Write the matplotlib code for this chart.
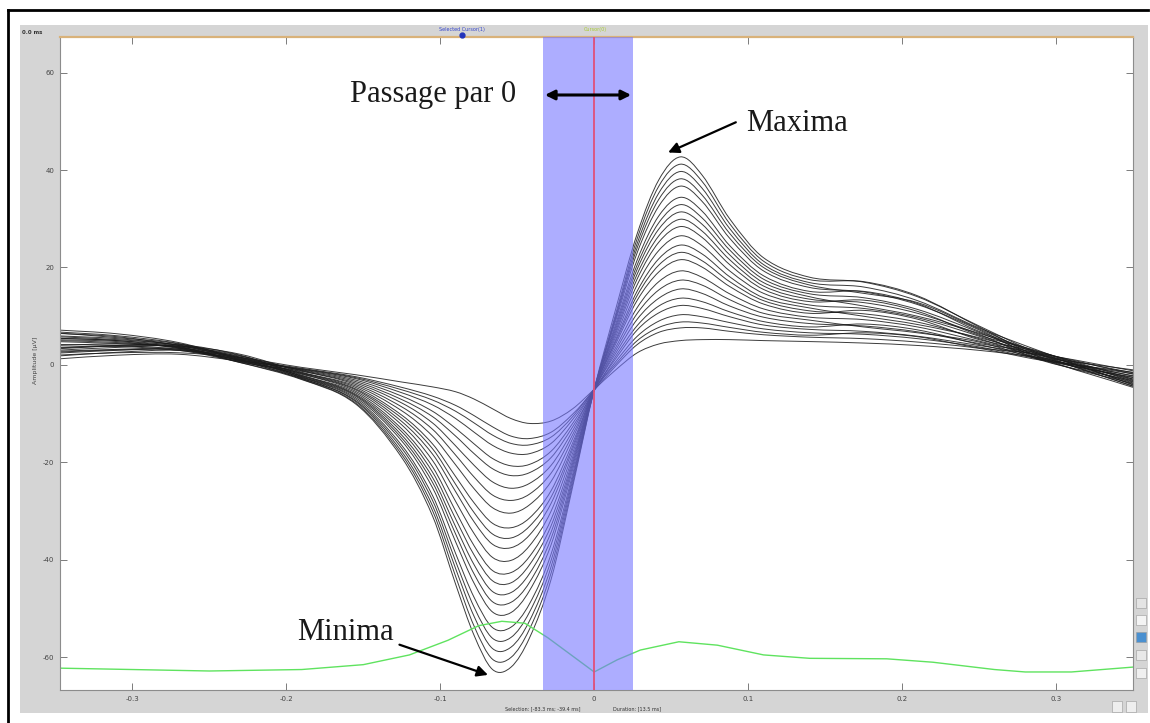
import matplotlib.pyplot as plt
from matplotlib.patches import Rectangle, PathPatch
from matplotlib.lines import Line2D
from matplotlib.path import Path

# shared time axis of the superimposed traces
t_ms = [-0.35, -0.31, -0.27, -0.23, -0.19, -0.155, -0.125, -0.105, -0.09, -0.078,
        -0.066, -0.054, -0.042, -0.028, -0.014, 0.0, 0.014, 0.028, 0.042, 0.056,
        0.07, 0.088, 0.11, 0.14, 0.175, 0.21, 0.25, 0.29, 0.35]

# one row per superimposed trace (amplitude)
traces = [
    [2.0, 2.5, 2.5, 1.5, -0.5, -2.0, -3.5, -4.5, -5.5, -7.0, -9.0, -11.0, -12.0, -11.5, -9.0, -5.0, -1.0, 2.5, 4.3, 5.0, 5.2, 5.2, 5.0, 4.8, 4.5, 4.0, 3.0, 1.5, -1.0],
    [3.5, 3.8, 3.0, 1.2, -0.7, -2.4, -4.6, -6.4, -8.3, -10.4, -12.7, -14.6, -15.1, -13.8, -10.1, -5.2, -0.2, 4.2, 6.7, 7.6, 7.6, 6.9, 6.2, 5.7, 5.4, 4.7, 3.4, 1.0, -1.5],
    [5.0, 4.6, 3.6, 1.0, -0.8, -2.6, -5.1, -7.2, -9.5, -11.9, -14.4, -16.1, -16.4, -14.8, -10.6, -4.9, 0.2, 5.0, 7.7, 8.8, 8.6, 7.7, 6.7, 6.1, 6.6, 5.8, 3.5, 2.2, -1.2],
    [1.2, 2.0, 2.2, 0.8, -0.9, -2.8, -5.7, -8.2, -11.0, -13.8, -16.5, -18.1, -18.2, -16.1, -11.2, -5.1, 0.7, 5.9, 9.0, 10.3, 9.9, 8.7, 7.4, 6.6, 6.3, 5.4, 3.7, 1.2, -1.8],
    [4.2, 4.0, 3.2, 1.0, -1.0, -3.1, -6.4, -9.5, -13.0, -16.2, -19.2, -20.7, -20.4, -17.7, -12.0, -5.0, 1.3, 7.2, 10.7, 12.2, 11.6, 9.9, 8.2, 7.3, 6.9, 5.9, 4.0, 2.0, -1.6],
    [6.5, 5.8, 4.0, 1.5, -1.1, -3.4, -7.1, -10.6, -14.6, -18.2, -21.3, -22.7, -22.1, -19.0, -12.7, -5.3, 1.8, 8.1, 12.1, 13.7, 13.0, 10.9, 8.9, 7.8, 8.4, 7.2, 4.2, 1.4, -2.2],
    [2.8, 3.2, 3.4, 1.8, -1.2, -3.7, -7.8, -11.9, -16.6, -20.6, -24.0, -25.3, -24.3, -20.6, -13.5, -4.9, 2.4, 9.4, 13.7, 15.6, 14.7, 12.1, 9.8, 8.5, 8.0, 6.8, 4.4, 2.4, -1.9],
    [5.5, 5.0, 3.8, 0.6, -1.3, -4.0, -8.6, -13.2, -18.5, -23.0, -26.7, -27.8, -26.5, -22.2, -14.3, -5.1, 3.0, 10.6, 15.4, 17.4, 16.4, 13.4, 10.6, 9.2, 7.8, 6.6, 4.7, 1.1, -2.5],
    [3.0, 3.6, 3.9, 2.2, -1.5, -4.3, -9.4, -14.6, -20.5, -25.4, -29.3, -30.4, -28.7, -23.9, -15.1, -5.0, 3.6, 11.8, 17.1, 19.3, 18.0, 14.6, 11.5, 9.8, 9.3, 7.8, 4.9, 1.9, -2.3],
    [6.8, 6.0, 4.4, 1.4, -1.6, -4.6, -10.3, -16.2, -22.9, -28.3, -32.5, -33.4, -31.4, -25.8, -16.0, -5.2, 4.3, 13.3, 19.1, 21.6, 20.1, 16.1, 12.5, 10.6, 11.2, 9.4, 5.2, 2.6, -2.9],
    [4.0, 4.3, 3.6, 0.9, -1.7, -4.9, -10.9, -17.2, -24.5, -30.3, -34.7, -35.5, -33.1, -27.1, -16.7, -4.8, 4.8, 14.3, 20.5, 23.1, 21.4, 17.1, 13.2, 11.1, 10.5, 8.8, 5.4, 1.3, -2.6],
    [1.8, 2.6, 3.0, 1.6, -1.8, -5.1, -11.6, -18.3, -26.0, -32.2, -36.8, -37.5, -34.9, -28.4, -17.3, -5.1, 5.2, 15.2, 21.8, 24.6, 22.8, 18.1, 13.8, 11.7, 10.0, 8.3, 5.6, 2.1, -3.1],
    [5.2, 4.8, 3.4, 0.7, -1.9, -5.4, -12.3, -19.6, -28.0, -34.6, -39.5, -40.1, -37.1, -30.0, -18.1, -5.0, 5.8, 16.5, 23.5, 26.5, 24.5, 19.3, 14.7, 12.3, 11.6, 9.7, 5.9, 1.6, -2.9],
    [3.6, 4.0, 4.2, 2.0, -2.1, -5.7, -13.1, -20.9, -30.0, -37.1, -42.2, -42.6, -39.3, -31.7, -18.9, -5.2, 6.4, 17.7, 25.2, 28.4, 26.2, 20.6, 15.5, 13.0, 13.3, 11.0, 6.1, 2.7, -3.4],
    [6.0, 5.4, 4.0, 1.1, -2.2, -6.0, -13.7, -22.0, -31.6, -39.0, -44.3, -44.7, -41.0, -33.0, -19.6, -4.9, 6.9, 18.7, 26.5, 29.9, 27.5, 21.6, 16.2, 13.5, 12.8, 10.6, 6.3, 1.0, -3.2],
    [2.4, 3.0, 3.2, 1.3, -2.3, -6.2, -14.4, -23.1, -33.2, -41.0, -46.5, -46.7, -42.8, -34.3, -20.2, -5.1, 7.4, 19.7, 27.9, 31.4, 28.9, 22.6, 16.9, 14.0, 12.1, 10.0, 6.5, 2.3, -3.7],
    [4.8, 4.4, 3.8, 1.9, -2.4, -6.4, -15.0, -24.1, -34.7, -42.9, -48.6, -48.7, -44.6, -35.6, -20.8, -5.0, 7.9, 20.6, 29.2, 32.9, 30.2, 23.6, 17.6, 14.6, 13.8, 11.4, 6.7, 1.7, -3.5],
    [7.2, 6.4, 4.6, 1.2, -2.5, -6.7, -15.6, -25.2, -36.3, -44.8, -50.7, -50.8, -46.3, -36.9, -21.5, -5.2, 8.4, 21.6, 30.6, 34.4, 31.6, 24.5, 18.3, 15.1, 15.1, 12.6, 6.9, 2.5, -4.0],
    [3.3, 3.9, 3.7, 0.8, -2.6, -7.0, -16.5, -26.8, -38.7, -47.7, -53.9, -53.8, -49.0, -38.8, -22.4, -4.9, 9.1, 23.1, 32.6, 36.7, 33.6, 26.0, 19.3, 15.9, 15.0, 12.4, 7.2, 1.2, -3.8],
    [5.8, 5.2, 4.1, 1.6, -2.7, -7.3, -17.1, -27.8, -40.3, -49.7, -56.1, -55.9, -50.7, -40.1, -23.1, -5.1, 9.6, 24.1, 34.0, 38.2, 34.9, 27.0, 20.0, 16.4, 14.7, 12.8, 7.4, 2.0, -4.3],
    [2.6, 3.1, 3.0, 0.5, -2.8, -7.5, -17.8, -28.9, -41.8, -51.6, -58.2, -57.9, -52.5, -41.4, -23.7, -5.0, 10.0, 25.0, 35.3, 39.7, 36.3, 28.0, 20.6, 16.9, 16.0, 13.2, 7.6, 2.8, -4.1],
    [6.6, 5.6, 4.3, 1.0, -2.9, -7.8, -18.4, -29.9, -43.4, -53.6, -60.4, -60.0, -54.2, -42.7, -24.4, -5.1, 10.5, 26.0, 36.7, 41.2, 37.7, 29.0, 21.3, 17.5, 17.1, 14.2, 7.8, 1.5, -4.6],
    [5.5, 5.0, 3.5, 0.5, -3.0, -8.0, -19.0, -31.0, -45.0, -55.5, -62.5, -62.0, -56.0, -44.0, -25.0, -5.0, 11.5, 27.0, 38.0, 42.7, 39.0, 30.0, 22.0, 18.0, 17.0, 14.0, 8.0, 2.2, -4.4],
]

# green trace along the bottom
green_t = [-0.35, -0.25, -0.19, -0.15, -0.12, -0.095, -0.075, -0.06, -0.045, -0.03,
           -0.015, 0.0, 0.015, 0.03, 0.055, 0.08, 0.11, 0.14, 0.19, 0.22, 0.26,
           0.28, 0.31, 0.35]
green_v = [-62.2, -62.8, -62.5, -61.5, -59.5, -56.5, -53.5, -52.6, -53.0, -56.0,
           -59.5, -63.0, -60.5, -58.5, -56.8, -57.5, -59.5, -60.2, -60.3, -61.0,
           -62.5, -63.0, -63.0, -62.0]

x_ticks = [-0.3, -0.2, -0.1, 0.0, 0.1, 0.2, 0.3]
x_ticklabels = ["-0.3", "-0.2", "-0.1", "0", "0.1", "0.2", "0.3"]
y_ticks = [-60, -40, -20, 0, 20, 40, 60]
y_ticklabels = ["-60", "-40", "-20", "0", "20", "40", "60"]
sel_start, sel_end = -0.033, 0.025
cursor_t = 0.0


def fx(p):
    return p / 1150


def fy(p):
    return 1 - p / 723


def smooth_path(xs, ys):
    # cubic hermite rendering through the read points
    n = len(xs)
    slopes = []
    for i in range(n):
        a = max(i - 1, 0)
        b = min(i + 1, n - 1)
        slopes.append((ys[b] - ys[a]) / (xs[b] - xs[a]))
    verts = [(xs[0], ys[0])]
    codes = [Path.MOVETO]
    for i in range(n - 1):
        h = (xs[i + 1] - xs[i]) / 3
        verts += [(xs[i] + h, ys[i] + slopes[i] * h),
                  (xs[i + 1] - h, ys[i + 1] - slopes[i + 1] * h),
                  (xs[i + 1], ys[i + 1])]
        codes += [Path.CURVE4] * 3
    return Path(verts, codes)


fig = plt.figure(figsize=(11.5, 7.23), dpi=100)
fig.patch.set_facecolor("white")

# grey window frame and black screenshot border
fig.add_artist(Rectangle((fx(20), fy(713)), fx(1148) - fx(20), fy(25) - fy(713),
                         transform=fig.transFigure, facecolor="#d5d5d5", edgecolor="none", zorder=-2))
fig.add_artist(Line2D([fx(8), fx(8)], [fy(10), 0], transform=fig.transFigure, color="black", lw=2))
fig.add_artist(Line2D([fx(8), fx(1148)], [fy(10), fy(10)], transform=fig.transFigure, color="black", lw=2))

ax = fig.add_axes([fx(60), fy(690), fx(1133) - fx(60), fy(37) - fy(690)])
ax.set_facecolor("white")

for row in traces:
    ax.add_patch(PathPatch(smooth_path(t_ms, row), fill=False, edgecolor="#1a1a1a",
                           lw=0.7, alpha=0.85, zorder=2))
ax.plot(green_t, green_v, color="#5fe35f", lw=1.0, zorder=2)

ax.axvspan(sel_start, sel_end, color="#7777ff", alpha=0.6, lw=0, zorder=3)
ax.axvline(cursor_t, color="#e0507a", lw=1.3, zorder=4)

ax.set_xlim(-0.347, 0.35)
ax.set_ylim(-66.7, 67.3)
ax.set_xticks(x_ticks)
ax.set_xticklabels(x_ticklabels)
ax.set_yticks(y_ticks)
ax.set_yticklabels(y_ticklabels)
ax.tick_params(direction="in", length=5, width=0.6, color="#666666", labelsize=5,
               labelcolor="#444444", top=True, right=True, pad=4)
for side in ["left", "bottom", "right"]:
    ax.spines[side].set_color("#8c8c8c")
    ax.spines[side].set_linewidth(0.8)
ax.spines["top"].set_color("#d9b27a")
ax.spines["top"].set_linewidth(1.6)

# annotations
serif = ["Liberation Serif", "DejaVu Serif"]
ax.text(-0.1045, 55.4, "Passage par 0", fontsize=22, family=serif, ha="center", va="center",
        color="#1a1a1a", zorder=6)
ax.annotate("", xy=(sel_start + 0.001, 55.4), xytext=(sel_end - 0.001, 55.4),
            arrowprops=dict(arrowstyle="<|-|>", color="black", lw=2.2, mutation_scale=14,
                            shrinkA=0, shrinkB=0), zorder=6)
ax.text(0.1315, 49.6, "Maxima", fontsize=22, family=serif, ha="center", va="center",
        color="#1a1a1a", zorder=6)
ax.annotate("", xy=(0.048, 43.6), xytext=(0.092, 49.8),
            arrowprops=dict(arrowstyle="-|>", color="black", lw=1.6, mutation_scale=16,
                            shrinkA=0, shrinkB=0), zorder=6)
ax.text(-0.1617, -55.0, "Minima", fontsize=22, family=serif, ha="center", va="center",
        color="#1a1a1a", zorder=6)
ax.annotate("", xy=(-0.069, -63.6), xytext=(-0.1265, -57.4),
            arrowprops=dict(arrowstyle="-|>", color="black", lw=1.6, mutation_scale=16,
                            shrinkA=0, shrinkB=0), zorder=6)

# small window texts
fig.text(fx(22), fy(32), "0.0 ms", fontsize=4, color="#333333", va="center", weight="bold")
fig.text(fx(35), fy(360), "Amplitude [\u00b5V]", fontsize=4.5, color="#444444",
         rotation=90, ha="center", va="center")
fig.text(fx(462), fy(29), "Selected Cursor(1)", fontsize=3.5, color="#3344cc", ha="center", va="center")
fig.add_artist(Line2D([fx(462)], [fy(35)], transform=fig.transFigure, marker="o",
                      markersize=3.5, color="#2233bb"))
fig.text(fx(595), fy(29), "Cursor(0)", fontsize=3.5, color="#aacc33", ha="center", va="center")
fig.text(fx(543), fy(709), "Selection: [-83.3 ms; -39.4 ms]", fontsize=3.5, color="#333333",
         ha="center", va="center")
fig.text(fx(637), fy(709), "Duration: [13.5 ms]", fontsize=3.5, color="#333333",
         ha="center", va="center")

# right-hand widget buttons
for yb, col in [(598, "#e4e4e4"), (615, "#f4f4f4"), (632, "#4a90d0"), (650, "#e8e8e8"), (668, "#f0f0f0")]:
    fig.add_artist(Rectangle((fx(1136), fy(yb + 10)), fx(10), fy(yb) - fy(yb + 10),
                             transform=fig.transFigure, facecolor=col, edgecolor="#999999", lw=0.4))
for xb in [1112, 1126]:
    fig.add_artist(Rectangle((fx(xb), fy(712)), fx(10), fy(701) - fy(712),
                             transform=fig.transFigure, facecolor="#eeeeee", edgecolor="#999999", lw=0.4))

fig.savefig("out.png", dpi=100)
plt.close(fig)
